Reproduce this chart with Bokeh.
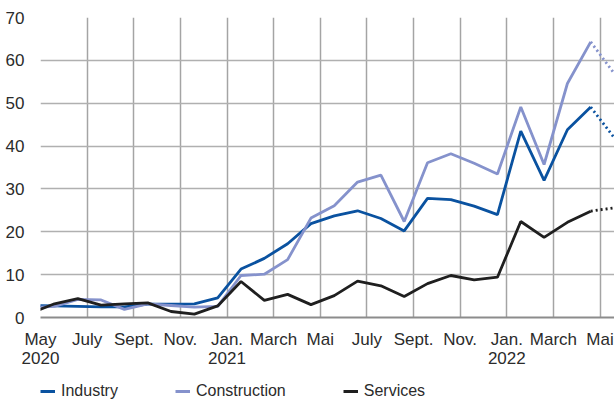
from bokeh.plotting import figure
from bokeh.layouts import column
from bokeh.models import Range1d, FixedTicker, Legend, LegendItem, ColumnDataSource, Grid
from bokeh.embed import file_html
from bokeh.resources import INLINE

# Month index 0 = May 2020; observations plotted mid-month (index + 0.6)
months = list(range(-1, 25))  # April 2020 ... May 2022
industry = [2.8, 2.7, 2.6, 2.5, 2.5, 3.1, 3.1, 3.2, 4.6, 11.3, 13.8, 17.2, 21.9,
            23.7, 24.9, 23.1, 20.2, 27.8, 27.5, 26.0, 24.0, 43.5, 32.0, 43.8, 49.1, 42.0]
construction = [2.3, 2.6, 4.2, 4.1, 1.9, 3.2, 2.8, 2.4, 2.6, 9.8, 10.1, 13.5, 23.2,
                26.1, 31.6, 33.2, 22.4, 36.1, 38.2, 36.0, 33.5, 49.1, 35.7, 54.6, 64.3, 57.0]
services = [1.1, 3.2, 4.4, 2.9, 3.2, 3.4, 1.4, 0.8, 2.7, 8.4, 4.0, 5.4, 3.0,
            5.1, 8.5, 7.4, 4.9, 7.9, 9.8, 8.8, 9.4, 22.4, 18.7, 22.2, 24.8, 25.6]
n_forecast = 1  # last point is a projection (dotted)

tick_months = [0, 2, 4, 6, 8, 10, 12, 14, 16, 18, 20, 22, 24]
tick_labels = ["May\n2020", "July", "Sept.", "Nov.", "Jan.\n2021", "March", "Mai",
               "July", "Sept.", "Nov.", "Jan.\n2022", "March", "Mai"]
y_ticks = [0, 10, 20, 30, 40, 50, 60, 70]

names = ["Industry", "Construction", "Services"]
colors = ["#0a52a0", "#8592cc", "#1f1f1f"]
series = [industry, construction, services]

FONT = "Liberation Sans"
TXT = "#2b2b2b"
FS = "17px"

p = figure(width=614, height=370, output_backend="svg", toolbar_location=None,
           x_range=Range1d(0, 24.62), y_range=Range1d(0, 70),
           min_border_left=39, min_border_right=0, min_border_top=17, min_border_bottom=51)
p.outline_line_color = None
p.xgrid.visible = False
p.ygrid.visible = False

vg = Grid(dimension=0, ticker=FixedTicker(ticks=tick_months[1:]),
          grid_line_color="#a4a4a4", grid_line_width=1.5)
hg = Grid(dimension=1, ticker=FixedTicker(ticks=y_ticks[1:-1]),
          grid_line_color="#b0b0b0", grid_line_width=1.5)
p.add_layout(vg)
p.add_layout(hg)

xs = [m + 0.6 for m in months]
for name, col, vals in zip(names, colors, series):
    solid = ColumnDataSource(dict(x=xs[:len(xs) - n_forecast], y=vals[:len(vals) - n_forecast]))
    dotted = ColumnDataSource(dict(x=xs[-n_forecast - 1:], y=vals[-n_forecast - 1:]))
    p.line("x", "y", source=solid, line_color=col, line_width=2.8)
    p.line("x", "y", source=dotted, line_color=col, line_width=2.8, line_dash="2 3")

xa = p.xaxis[0]
xa.ticker = FixedTicker(ticks=tick_months)
xa.major_label_overrides = {t: l for t, l in zip(tick_months, tick_labels)}
xa.axis_line_color = "#8c8c8c"
xa.axis_line_width = 2
xa.major_tick_line_color = None
xa.minor_tick_line_color = None
xa.major_label_standoff = 6
xa.major_label_text_font = FONT
xa.major_label_text_font_size = FS
xa.major_label_text_color = TXT
xa.major_label_text_line_height = 1.0

ya = p.yaxis[0]
ya.ticker = FixedTicker(ticks=y_ticks)
ya.axis_line_color = None
ya.major_tick_line_color = None
ya.minor_tick_line_color = None
ya.major_label_standoff = 10
ya.major_label_text_font = FONT
ya.major_label_text_font_size = FS
ya.major_label_text_color = TXT

# Legend strip below the chart (renderers hold a point outside the visible range)
lg = figure(width=614, height=30, output_backend="svg", toolbar_location=None,
            x_axis_type=None, y_axis_type=None, x_range=Range1d(0, 1), y_range=Range1d(0, 1),
            min_border_left=40, min_border_right=0, min_border_top=0, min_border_bottom=0)
lg.outline_line_color = None
lg.xgrid.visible = False
lg.ygrid.visible = False
items = []
for name, col in zip(names, colors):
    r = lg.line(x=[-5, -4], y=[-5, -5], line_color=col, line_width=3)
    items.append(LegendItem(label=name, renderers=[r]))
legend = Legend(items=items, orientation="horizontal", location="bottom_left",
                label_text_font=FONT, label_text_font_size="16px", label_text_color=TXT,
                glyph_width=15, glyph_height=12, label_standoff=6, spacing=57,
                padding=0, margin=0, border_line_color=None, background_fill_alpha=0)
lg.add_layout(legend, "center")

layout = column(p, lg, spacing=0)
open("out.html", "w").write(file_html(layout, INLINE))
